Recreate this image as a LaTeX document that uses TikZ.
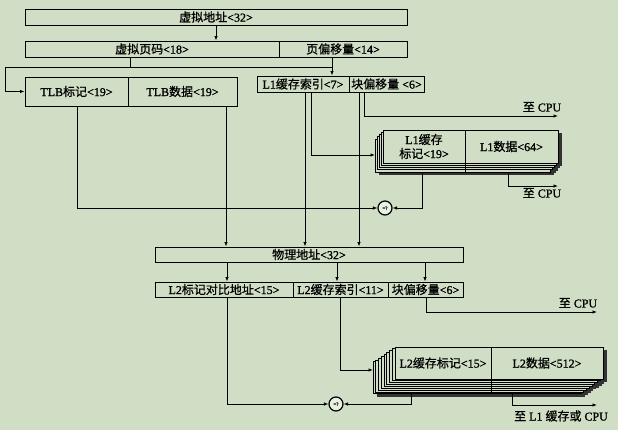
\documentclass[tikz,border=0pt]{standalone}
\usepackage{fontspec}
\setmainfont{Liberation Serif}[RawFeature={embolden=1.2}]
\newfontfamily\cjk{Noto Sans CJK SC}[RawFeature={embolden=0.8}]
\usetikzlibrary{arrows.meta,calc}
\definecolor{bg}{HTML}{CFDEC4}
\begin{document}
\begin{tikzpicture}[x=1pt,y=-1pt,
  ln/.style={line width=0.8pt},
  arr/.style={ln,-{Latex[length=4.5pt,width=3.5pt]}},
  box/.style={draw,line width=0.9pt,fill=bg,inner sep=0pt,font=\fontsize{12}{14}\selectfont},
  lbl/.style={inner sep=0pt,font=\fontsize{12}{14}\selectfont},
  cmp/.style={circle,draw,line width=1.2pt,fill=white!55!bg,minimum size=14pt,inner sep=0pt,font=\fontsize{5}{6}\selectfont},
  layer/.style={draw,line width=0.8pt,fill=bg},
  shade/.style={fill=black!80}]
\fill[bg] (0,0) rectangle (618,430);
\useasboundingbox (0,0) rectangle (618,430);

% stacked L1 cache
\foreach \k in {0,...,4}{\fill[shade] ({387-2*\k},{133+2.3*\k}) rectangle ++(175,33);}
\foreach \k in {4,3,2,1}{\draw[layer] ({383-2*\k},{130+2.3*\k}) rectangle ++(175,33);}
% stacked L2 cache
\foreach \k in {0,...,8}{\fill[shade] ({399-2.75*\k},{350+1.85*\k}) rectangle ++(208,32);}
\foreach \k in {8,7,...,1}{\draw[layer] ({395-2.75*\k},{347+1.85*\k}) rectangle ++(208,32);}

% boxes
\node[box,minimum width=382,minimum height=16] (va) at (216,17) {{\cjk 虚拟地址}<32>};
\node[box,minimum width=254,minimum height=16] (vpn) at (152,49) {{\cjk 虚拟页码}<18>};
\node[box,minimum width=128,minimum height=16] (po) at (343,49) {{\cjk 页偏移量}<14>};
\node[box,minimum width=103,minimum height=29] (tlbtag) at (76.5,91.5) {TLB{\cjk 标记}<19>};
\node[box,minimum width=109,minimum height=29] (tlbdata) at (182.5,91.5) {TLB{\cjk 数据}<19>};
\node[box,minimum width=92,minimum height=16] (l1idx) at (303,84) {L1{\cjk 缓存索引}<7>};
\node[box,minimum width=75,minimum height=16] (l1off) at (386.5,84) {{\cjk 块偏移量} <6>};
\node[box,minimum width=82,minimum height=33,align=center] (l1tag) at (424,146.5) {L1{\cjk 缓存}\\{\cjk 标记}<19>};
\node[box,minimum width=93,minimum height=33] (l1data) at (511.5,146.5) {L1{\cjk 数据}<64>};
\draw[ln] (l1tag.south east) -- ++(0,9);
\node[box,minimum width=308,minimum height=15] (pa) at (309,254.5) {{\cjk 物理地址}<32>};
\node[box,minimum width=138,minimum height=15] (l2cmp) at (224,289.5) {L2{\cjk 标记对比地址}<15>};
\node[box,minimum width=95,minimum height=15] (l2idx) at (340.5,289.5) {L2{\cjk 缓存索引}<11>};
\node[box,minimum width=75,minimum height=15] (l2off) at (425.5,289.5) {{\cjk 块偏移量}<6>};
\node[box,minimum width=96,minimum height=32] (l2tag) at (443,363) {L2{\cjk 缓存标记}<15>};
\node[box,minimum width=112,minimum height=32] (l2data) at (547,363) {L2{\cjk 数据}<512>};
\draw[ln] (l2tag.south east) -- ++(0,15);
\node[cmp] (cmp1) at (385,208) {=?};
\node[cmp] (cmp2) at (336,404) {=?};

% helper coordinates
\coordinate (j0) at (5,67);
\coordinate (j1) at (130,67);
\coordinate (j2) at (332,67);
\coordinate (l1in) at (375,155);
\coordinate (l2in) at (373,370);
\coordinate (l1bot) at (0,172);
\coordinate (l2bot) at (0,394);
\coordinate (cpu1) at (558,116);
\coordinate (cpu2) at (558,186);
\coordinate (cpu3) at (597,312);
\coordinate (cpu4) at (597,405);
\foreach \x in {77,226,227,305,311,337,340,359,364,411,422,425,426,508,512}{\coordinate (x\x) at (\x,0);}

% connectors
\draw[arr] (va.south) -- (vpn.north -| va.south);
\draw[ln] (vpn.south -| j1) -- (j1);
\draw[ln] (j0) -- (j2);
\draw[arr] (j0) |- (tlbtag.west);
\draw[arr] (po.south -| j2) -- (l1idx.north -| j2);
\draw[arr] (l1idx.south -| x311) |- (l1in);
\draw[arr] (l1off.south -| x364) |- (cpu1);
\draw[arr] (l1bot -| x508) |- (cpu2);
\draw[arr] (tlbtag.south -| x77) |- (cmp1.west);
\draw[arr] (l1bot -| x422) |- (cmp1.east);
\draw[arr] (tlbdata.south -| x226) -- (pa.north -| x226);
\draw[arr] (l1idx.south -| x305) -- (pa.north -| x305);
\draw[arr] (l1off.south -| x359) -- (pa.north -| x359);
\draw[arr] (pa.south -| x227) -- (l2cmp.north -| x227);
\draw[arr] (pa.south -| x337) -- (l2idx.north -| x337);
\draw[arr] (pa.south -| x425) -- (l2off.north -| x425);
\draw[arr] (l2off.south -| x426) |- (cpu3);
\draw[arr] (l2idx.south -| x340) |- (l2in);
\draw[arr] (l2cmp.south -| x227) |- (cmp2.west);
\draw[arr] (l2bot -| x411) |- (cmp2.east);
\draw[arr] (l2bot -| x512) |- (cpu4);

% labels
\node[lbl] (t1) at (542,107) {{\cjk 至} CPU};
\node[lbl] (t2) at (542,193) {{\cjk 至} CPU};
\node[lbl] (t3) at (578,303) {{\cjk 至} CPU};
\node[lbl] (t4) at (561,416) {{\cjk 至} L1 {\cjk 缓存或} CPU};
\end{tikzpicture}
\end{document}
